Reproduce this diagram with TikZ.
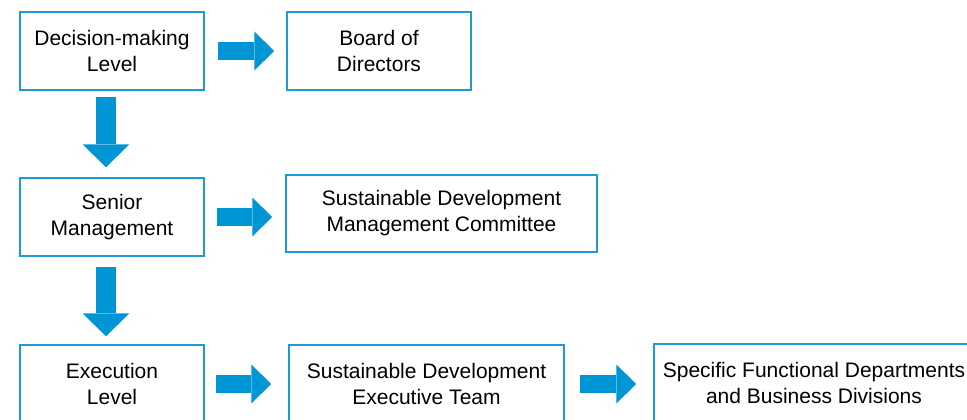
\documentclass[tikz,border=0pt]{standalone}
\usepackage{fontspec}
\setmainfont{Liberation Sans}
\usetikzlibrary{arrows.meta}
\definecolor{boxblue}{RGB}{30,155,215}
\definecolor{arrowblue}{RGB}{0,150,214}
\tikzstyle{level}=[rectangle,draw=boxblue,line width=1.5pt,fill=white,minimum height=78pt,
  align=center,inner sep=2pt,font=\fontsize{21}{26}\selectfont]
\tikzstyle{fatarrow}=[draw=arrowblue,line width=18pt,-{Triangle[length=20pt,width=39pt,line width=0pt]}]
\tikzstyle{downarrow}=[draw=arrowblue,line width=20pt,-{Triangle[length=23pt,width=47pt,line width=0pt]}]

\begin{document}
\begin{tikzpicture}[x=1pt,y=-1pt]
\useasboundingbox (0,0) rectangle (967,420);
\node [level,minimum width=184pt] (dm) at (112,51) {Decision-making\\Level};
\node [level,minimum width=184pt] (bod) at (379,51) {Board of\\Directors};
\node [level,minimum width=184pt] (sm) at (112,217) {Senior\\Management};
\node [level,minimum width=311pt,minimum height=77pt] (sdmc) at (441.5,213.5) {Sustainable Development\\Management Committee};
\node [level,minimum width=184pt] (el) at (112,384) {Execution\\Level};
\node [level,minimum width=275pt] (sdet) at (426.5,384) {Sustainable Development\\Executive Team};
\node [level,minimum width=320pt] (sfd) at (814,383) {Specific Functional Departments\\and Business Divisions};

% down the levels
\draw [downarrow,shorten <=6pt,shorten >=10pt] ([xshift=-6pt]dm.south) -- ([xshift=-6pt]sm.north);
\draw [downarrow,shorten <=10pt,shorten >=8pt] ([xshift=-6pt]sm.south) -- ([xshift=-6pt]el.north);
% across to the bodies
\draw [fatarrow,shorten <=13pt,shorten >=12pt] (dm.east) -- (bod.west);
\draw [fatarrow,shorten <=12pt,shorten >=13pt] (sm.east) -- (sm.east -| sdmc.west);
\draw [fatarrow,shorten <=11pt,shorten >=17pt] (el.east) -- (el.east -| sdet.west);
\draw [fatarrow,shorten <=15pt,shorten >=17pt] (sdet.east) -- (sdet.east -| sfd.west);
\end{tikzpicture}
\end{document}
